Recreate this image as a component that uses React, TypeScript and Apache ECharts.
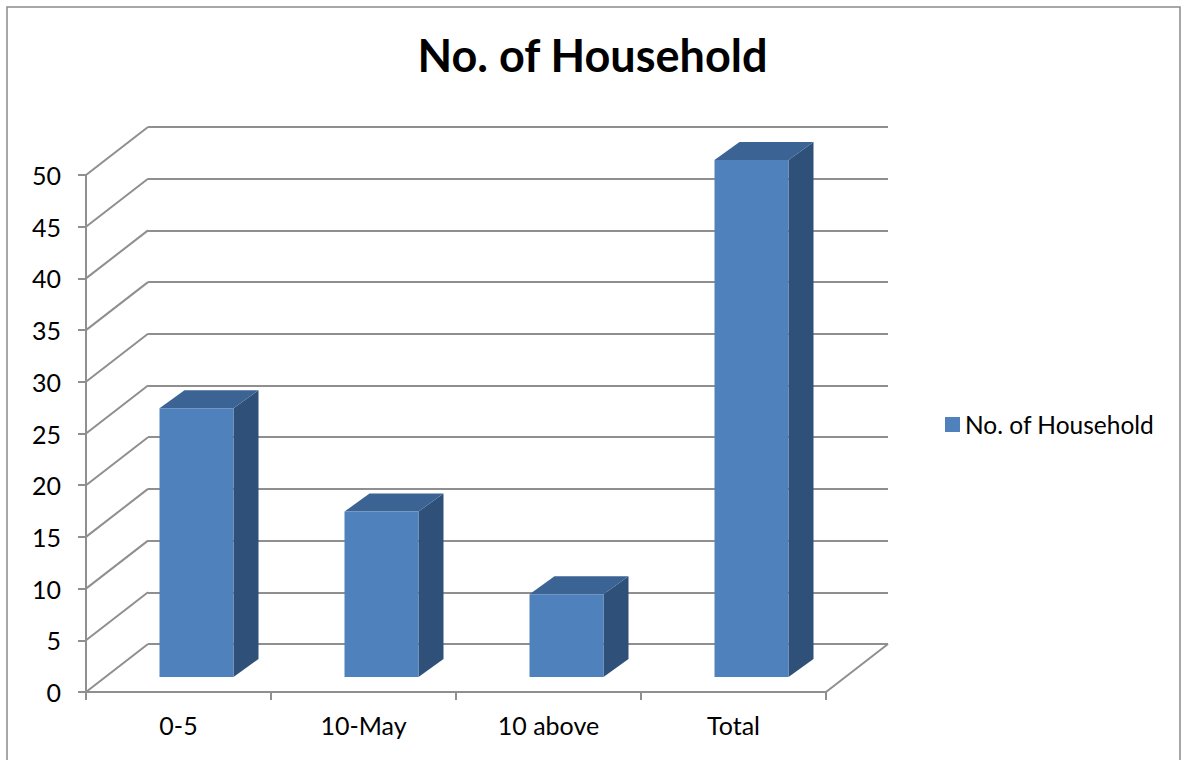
import React, { useEffect, useRef } from "react";
import * as echarts from "echarts";

const categories = ["0-5", "10-May", "10 above", "Total"];
const households = [26, 16, 8, 50];
const yTicks = [0, 5, 10, 15, 20, 25, 30, 35, 40, 45, 50];
const seriesName = "No. of Household";
const titleText = "No. of Household";

const FRONT = { left: 86, top: 175, width: 740, height: 517 };
const BACK = { left: 148, top: 127, width: 740, height: 517 };
const DX = BACK.left - FRONT.left;
const DY = FRONT.top + FRONT.height - (BACK.top + BACK.height);
const BAR_SHIFT = [18, 15];
const BAR_DEPTH = [25, 18];
const GRID_COLOR = "#8f8f8f";
const LINE_W = 2;
const FRONT_COLOR = "#4f81bd";
const SIDE_COLOR = "#2f5179";
const TOP_COLOR = "#3b6494";
const FONT = "Lato";

export default function App() {
  const ref = useRef<HTMLDivElement>(null);
  useEffect(() => {
    document.body.style.margin = "0";
    const chart = echarts.init(ref.current!, null, { renderer: "svg" });
    chart.setOption({
      animation: false,
      backgroundColor: "#ffffff",
      textStyle: { fontFamily: FONT },
      title: {
        text: titleText,
        left: "center",
        top: 27,
        textStyle: { fontFamily: FONT, fontSize: 45, fontWeight: "bold", color: "#000" },
      },
      legend: {
        data: [seriesName],
        left: 945,
        top: 412,
        padding: 0,
        icon: "rect",
        itemWidth: 15,
        itemHeight: 15,
        textStyle: { fontFamily: FONT, fontSize: 24.5, color: "#000" },
      },
      grid: [
        { ...FRONT, containLabel: false },
        { ...BACK, containLabel: false },
      ],
      xAxis: [
        {
          type: "category",
          gridIndex: 0,
          data: categories,
          boundaryGap: true,
          axisLine: { show: true, lineStyle: { color: GRID_COLOR, width: LINE_W } },
          axisTick: { show: true, length: 8, lineStyle: { color: GRID_COLOR, width: LINE_W } },
          axisLabel: { fontFamily: FONT, fontSize: 25, color: "#000", margin: 20 },
          splitLine: { show: false },
        },
        {
          type: "category",
          gridIndex: 1,
          data: categories,
          show: false,
        },
      ],
      yAxis: [
        {
          type: "value",
          gridIndex: 0,
          min: 0,
          max: 50,
          interval: 5,
          axisLine: { show: true, lineStyle: { color: GRID_COLOR, width: LINE_W } },
          axisTick: { show: true, length: 8, lineStyle: { color: GRID_COLOR, width: LINE_W } },
          axisLabel: { fontFamily: FONT, fontSize: 25, color: "#000", margin: 25 },
          splitLine: { show: false },
        },
        {
          type: "value",
          gridIndex: 1,
          min: 0,
          max: 50,
          interval: 5,
          axisLine: { show: false },
          axisTick: { show: false },
          axisLabel: { show: false },
          splitLine: { show: true, lineStyle: { color: GRID_COLOR, width: LINE_W } },
        },
      ],
      graphic: [
        {
          type: "rect",
          silent: true,
          z: -10,
          shape: { x: 7, y: 7, width: 1173, height: 800 },
          style: { fill: "none", stroke: "#8a8a8a", lineWidth: 1.5 },
        },
      ],
      series: [
        {
          type: "custom",
          name: "walls",
          xAxisIndex: 0,
          yAxisIndex: 0,
          clip: false,
          silent: true,
          z: 1,
          data: yTicks.map((v) => [0, v]),
          renderItem: (params: any, api: any) => {
            const cs = params.coordSys;
            const v = api.value(1);
            const y = api.coord([0, v])[1];
            const x = cs.x;
            const style = { stroke: GRID_COLOR, lineWidth: LINE_W, fill: "none" };
            const children: any[] = [
              { type: "line", shape: { x1: x, y1: y, x2: x + DX, y2: y - DY }, style },
            ];
            if (v === 0) {
              const xr = cs.x + cs.width;
              children.push({
                type: "line",
                shape: { x1: xr, y1: y, x2: xr + DX, y2: y - DY },
                style,
              });
            }
            return { type: "group", children };
          },
        },
        {
          type: "custom",
          name: seriesName,
          xAxisIndex: 0,
          yAxisIndex: 0,
          clip: false,
          z: 5,
          itemStyle: { color: FRONT_COLOR },
          data: households.map((v, i) => [i, v]),
          renderItem: (params: any, api: any) => {
            const i = api.value(0);
            const v = api.value(1);
            const base = api.coord([i, 0]);
            const top = api.coord([i, v]);
            const band = api.size([1, 0])[0];
            const w = band * 0.4;
            const x0 = base[0] - w / 2 + BAR_SHIFT[0];
            const x1 = x0 + w;
            const yb = base[1] - BAR_SHIFT[1];
            const yt = top[1] - BAR_SHIFT[1];
            const dx = BAR_DEPTH[0];
            const dy = BAR_DEPTH[1];
            return {
              type: "group",
              children: [
                {
                  type: "polygon",
                  shape: { points: [[x1, yb], [x1 + dx, yb - dy], [x1 + dx, yt - dy], [x1, yt]] },
                  style: { fill: SIDE_COLOR },
                },
                {
                  type: "polygon",
                  shape: { points: [[x0, yt], [x1, yt], [x1 + dx, yt - dy], [x0 + dx, yt - dy]] },
                  style: { fill: TOP_COLOR },
                },
                {
                  type: "polygon",
                  shape: { points: [[x0, yb], [x1, yb], [x1, yt], [x0, yt]] },
                  style: { fill: FRONT_COLOR },
                },
              ],
            };
          },
        },
      ],
    });
    return () => chart.dispose();
  }, []);
  return <div ref={ref} style={{ width: 1185, height: 760 }} />;
}
